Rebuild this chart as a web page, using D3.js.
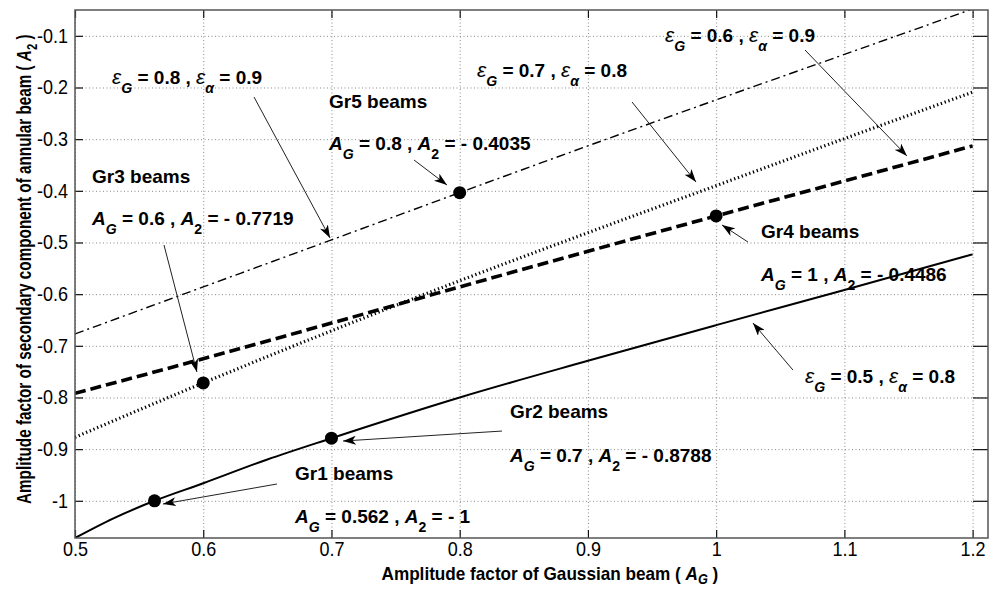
<!DOCTYPE html>
<html>
<head>
<meta charset="utf-8">
<script src="https://cdn.jsdelivr.net/npm/d3@7"></script>
<style>
  body { margin: 0; background: #fff; }
  svg { display: block; font-family: "Liberation Sans", Arial, Helvetica, sans-serif; }
  text { white-space: pre; }
</style>
</head>
<body>
<svg id="chart" width="997" height="590"></svg>
<script>
// ---- data ---------------------------------------------------------------
// eps_G = 0.5, eps_a = 0.8 (solid)
const solidAG = [0.5, 0.53, 0.562, 0.6, 0.65, 0.7, 0.8, 0.9, 1.0, 1.1, 1.2];
const solidA2 = [-1.072, -1.034, -1.0, -0.966, -0.920, -0.8788, -0.800, -0.729, -0.660, -0.592, -0.523];
// shared sampling for the other three curves
const curveAG = [0.5, 0.6, 0.7, 0.8, 0.9, 1.0, 1.1, 1.2];
// eps_G = 0.6, eps_a = 0.9 (dashed)
const dashedA2 = [-0.792, -0.725, -0.656, -0.586, -0.517, -0.4486, -0.381, -0.313];
// eps_G = 0.7, eps_a = 0.8 (dotted)
const dottedA2 = [-0.877, -0.7719, -0.671, -0.574, -0.481, -0.390, -0.299, -0.209];
// eps_G = 0.8, eps_a = 0.9 (dash-dot)
const dashDotA2 = [-0.677, -0.586, -0.495, -0.4035, -0.313, -0.224, -0.136, -0.048];

// marked beam groups
const groupNames = ["Gr1", "Gr2", "Gr3", "Gr4", "Gr5"];
const groupAG = [0.562, 0.7, 0.6, 1, 0.8];
const groupA2 = [-1, -0.8788, -0.7719, -0.4486, -0.4035];

// axis ticks
const xTicks = [0.5, 0.6, 0.7, 0.8, 0.9, 1.0, 1.1, 1.2];
const xTickLabels = ["0.5", "0.6", "0.7", "0.8", "0.9", "1", "1.1", "1.2"];
const yTicks = [-1, -0.9, -0.8, -0.7, -0.6, -0.5, -0.4, -0.3, -0.2, -0.1];
const yTickLabels = ["-1", "-0.9", "-0.8", "-0.7", "-0.6", "-0.5", "-0.4", "-0.3", "-0.2", "-0.1"];

// ---- layout -------------------------------------------------------------
const L = 75, R = 988, T = 10, B = 538;
const svg = d3.select("#chart");
const x = d3.scaleLinear().domain([0.5, 1.212]).range([L, R]);
const y = d3.scaleLinear().domain([-1.072, -0.05]).range([B, T]);

// grid
svg.append("g").attr("transform", `translate(0,${B})`)
  .call(d3.axisBottom(x).tickValues(xTicks).tickSize(-(B - T)).tickFormat(""))
  .call(g => g.select(".domain").remove())
  .selectAll("line").attr("stroke", "#8a8a8a").attr("stroke-dasharray", "1,2.5");
svg.append("g").attr("transform", `translate(${L},0)`)
  .call(d3.axisLeft(y).tickValues(yTicks).tickSize(-(R - L)).tickFormat(""))
  .call(g => g.select(".domain").remove())
  .selectAll("line").attr("stroke", "#8a8a8a").attr("stroke-dasharray", "1,2.5");

// curves
svg.append("defs").append("clipPath").attr("id", "plotClip")
  .append("rect").attr("x", L).attr("y", T).attr("width", R - L).attr("height", B - T);
const line = d3.line().x(d => x(d[0])).y(d => y(d[1])).curve(d3.curveMonotoneX);
const plot = svg.append("g").attr("clip-path", "url(#plotClip)");
const curves = [
  { ag: solidAG, a2: solidA2, w: 2, dash: null },
  { ag: curveAG, a2: dashedA2, w: 3.6, dash: "11,5" },
  { ag: curveAG, a2: dottedA2, w: 3.2, dash: "1.3,2.7" },
  { ag: curveAG, a2: dashDotA2, w: 1.4, dash: "9,4,2,4" }
];
curves.forEach(c => {
  plot.append("path")
    .datum(c.ag.map((v, i) => [v, c.a2[i]]))
    .attr("d", line)
    .attr("fill", "none")
    .attr("stroke", "#000")
    .attr("stroke-width", c.w)
    .attr("stroke-dasharray", c.dash);
});

// axes frame and inward ticks
const tickStyle = g => {
  g.select(".domain").remove();
  g.selectAll("line").attr("stroke", "#111").attr("stroke-width", 1.2);
};
const bottomAxis = svg.append("g").attr("transform", `translate(0,${B})`)
  .call(d3.axisBottom(x).tickValues(xTicks).tickSizeInner(-8).tickSizeOuter(0).tickPadding(4)
    .tickFormat((d, i) => xTickLabels[i]))
  .call(tickStyle);
const leftAxis = svg.append("g").attr("transform", `translate(${L},0)`)
  .call(d3.axisLeft(y).tickValues(yTicks).tickSizeInner(-8).tickSizeOuter(0).tickPadding(7)
    .tickFormat((d, i) => yTickLabels[i]))
  .call(tickStyle);
svg.append("g").attr("transform", `translate(0,${T})`)
  .call(d3.axisTop(x).tickValues(xTicks).tickSizeInner(-8).tickSizeOuter(0).tickFormat(""))
  .call(tickStyle);
svg.append("g").attr("transform", `translate(${R},0)`)
  .call(d3.axisRight(y).tickValues(yTicks).tickSizeInner(-15).tickSizeOuter(0).tickFormat(""))
  .call(tickStyle);
const tickSqueeze = 0.9;
[bottomAxis, leftAxis].forEach(a => a.selectAll("text")
  .attr("font-family", "Liberation Sans, Arial, sans-serif")
  .attr("font-size", 20).attr("fill", "#000")
  .attr("transform", `scale(${tickSqueeze},1)`));
leftAxis.selectAll("text").attr("x", -7 / tickSqueeze);

svg.append("rect").attr("x", L).attr("y", T).attr("width", R - L).attr("height", B - T)
  .attr("fill", "none").attr("stroke", "#555").attr("stroke-width", 1.5);

// ---- rich text helper (italic letters, subscripts, greek) ----------------
function richText(parent, segs, size, subDrop = 0.47) {
  const t = parent.append("text").attr("font-size", size).attr("font-weight", "bold").attr("fill", "#000");
  let shift = 0;
  segs.forEach(([s, kind]) => {
    const ts = t.append("tspan").text(s);
    let target = 0;
    if (kind === "sub" || kind === "subi") { target = size * subDrop; ts.attr("font-size", size * 0.74); }
    if (kind === "subi" || kind === "it") ts.attr("font-style", "italic");
    if (kind === "eps") ts.attr("font-style", "italic").attr("font-weight", "normal").attr("font-size", size * 1.1);
    if (target - shift !== 0) ts.attr("dy", target - shift);
    shift = target;
  });
  return t;
}
const epsLabel = (g, a) => [["ε", "eps"], [g === "G" ? "G" : "α", "subi"], [" = " + a[0] + " , ", "b"],
  ["ε", "eps"], ["α", "subi"], [" = " + a[1], "b"]];
const agLabel = (ag, a2) => [["A", "it"], ["G", "subi"], [" = " + ag + " , ", "b"],
  ["A", "it"], ["2", "sub"], [" = - " + a2, "b"]];

// ---- annotations (positions in data units) -------------------------------
const notes = [
  { segs: epsLabel("G", ["0.8", "0.9"]), at: [0.5289, -0.1932] },
  { segs: epsLabel("G", ["0.7", "0.8"]), at: [0.8135, -0.1797] },
  { segs: epsLabel("G", ["0.6", "0.9"]), at: [0.9601, -0.1119] },
  { segs: epsLabel("G", ["0.5", "0.8"]), at: [1.0693, -0.7720] },
  { segs: [["Gr5 beams", "b"]], at: [0.6981, -0.2397] },
  { segs: agLabel("0.8", "0.4035"), at: [0.6981, -0.3210] },
  { segs: [["Gr3 beams", "b"]], at: [0.5133, -0.3849] },
  { segs: agLabel("0.6", "0.7719"), at: [0.5133, -0.4662] },
  { segs: [["Gr4 beams", "b"]], at: [1.0350, -0.4913] },
  { segs: agLabel("1", "0.4486"), at: [1.0350, -0.5746] },
  { segs: [["Gr2 beams", "b"]], at: [0.8392, -0.8398] },
  { segs: agLabel("0.7", "0.8788"), at: [0.8392, -0.9250] },
  { segs: [["Gr1 beams", "b"]], at: [0.6716, -0.9598] },
  { segs: agLabel("0.562", "1"), at: [0.6716, -1.0430] }
];
const arrows = [
  [[0.6396, -0.2184], [0.6989, -0.4913]],
  [[0.9344, -0.2281], [0.9843, -0.3830]],
  [[1.0693, -0.1274], [1.1488, -0.3326]],
  [[1.0599, -0.7469], [1.0287, -0.6559]],
  [[0.7644, -0.3404], [0.7901, -0.3888]],
  [[0.5694, -0.5049], [0.5951, -0.7507]],
  [[1.0248, -0.4991], [1.0046, -0.4662]],
  [[0.8330, -0.8650], [0.7090, -0.8843]],
  [[0.6575, -0.9675], [0.5686, -1.0062]]
];

svg.select("defs").append("marker")
  .attr("id", "head").attr("viewBox", "0 0 13 9").attr("refX", 13).attr("refY", 4.5)
  .attr("markerWidth", 13).attr("markerHeight", 9).attr("markerUnits", "userSpaceOnUse")
  .attr("orient", "auto")
  .append("path").attr("d", "M0,0 L13,4.5 L0,9 L3.5,4.5 Z").attr("fill", "#000");

arrows.forEach(([a, b]) => {
  svg.append("line")
    .attr("x1", x(a[0])).attr("y1", y(a[1])).attr("x2", x(b[0])).attr("y2", y(b[1]))
    .attr("stroke", "#222").attr("stroke-width", 1).attr("marker-end", "url(#head)");
});

// group markers
svg.append("g").selectAll("circle").data(groupAG).join("circle")
  .attr("cx", d => x(d)).attr("cy", (d, i) => y(groupA2[i])).attr("r", 6.5).attr("fill", "#000")
  .append("title").text((d, i) => groupNames[i]);

notes.forEach(n => {
  richText(svg, n.segs, 19).attr("x", x(n.at[0])).attr("y", y(n.at[1]));
});

// ---- axis titles ----------------------------------------------------------
const xTitle = svg.append("g");
const xt = richText(xTitle, [["Amplitude factor of Gaussian beam ( ", "b"], ["A", "it"], ["G", "subi"], [" )", "b"]], 19, 0.22)
  .attr("text-anchor", "start");
const xw = xt.node().getComputedTextLength();
const xs = 337 / xw;
xTitle.attr("transform", `translate(${550 - 337 / 2},580) scale(${xs},1)`);

const yTitle = svg.append("g");
const yt = richText(yTitle, [["Amplitude factor of secondary component of annular beam ( ", "b"], ["A", "it"], ["2", "sub"], [" )", "b"]], 20, 0.3)
  .attr("text-anchor", "start");
const yw = yt.node().getComputedTextLength();
const ys = 470 / yw;
yTitle.attr("transform", `translate(31,${269 + 470 / 2}) rotate(-90) scale(${ys},1)`);
</script>
</body>
</html>
